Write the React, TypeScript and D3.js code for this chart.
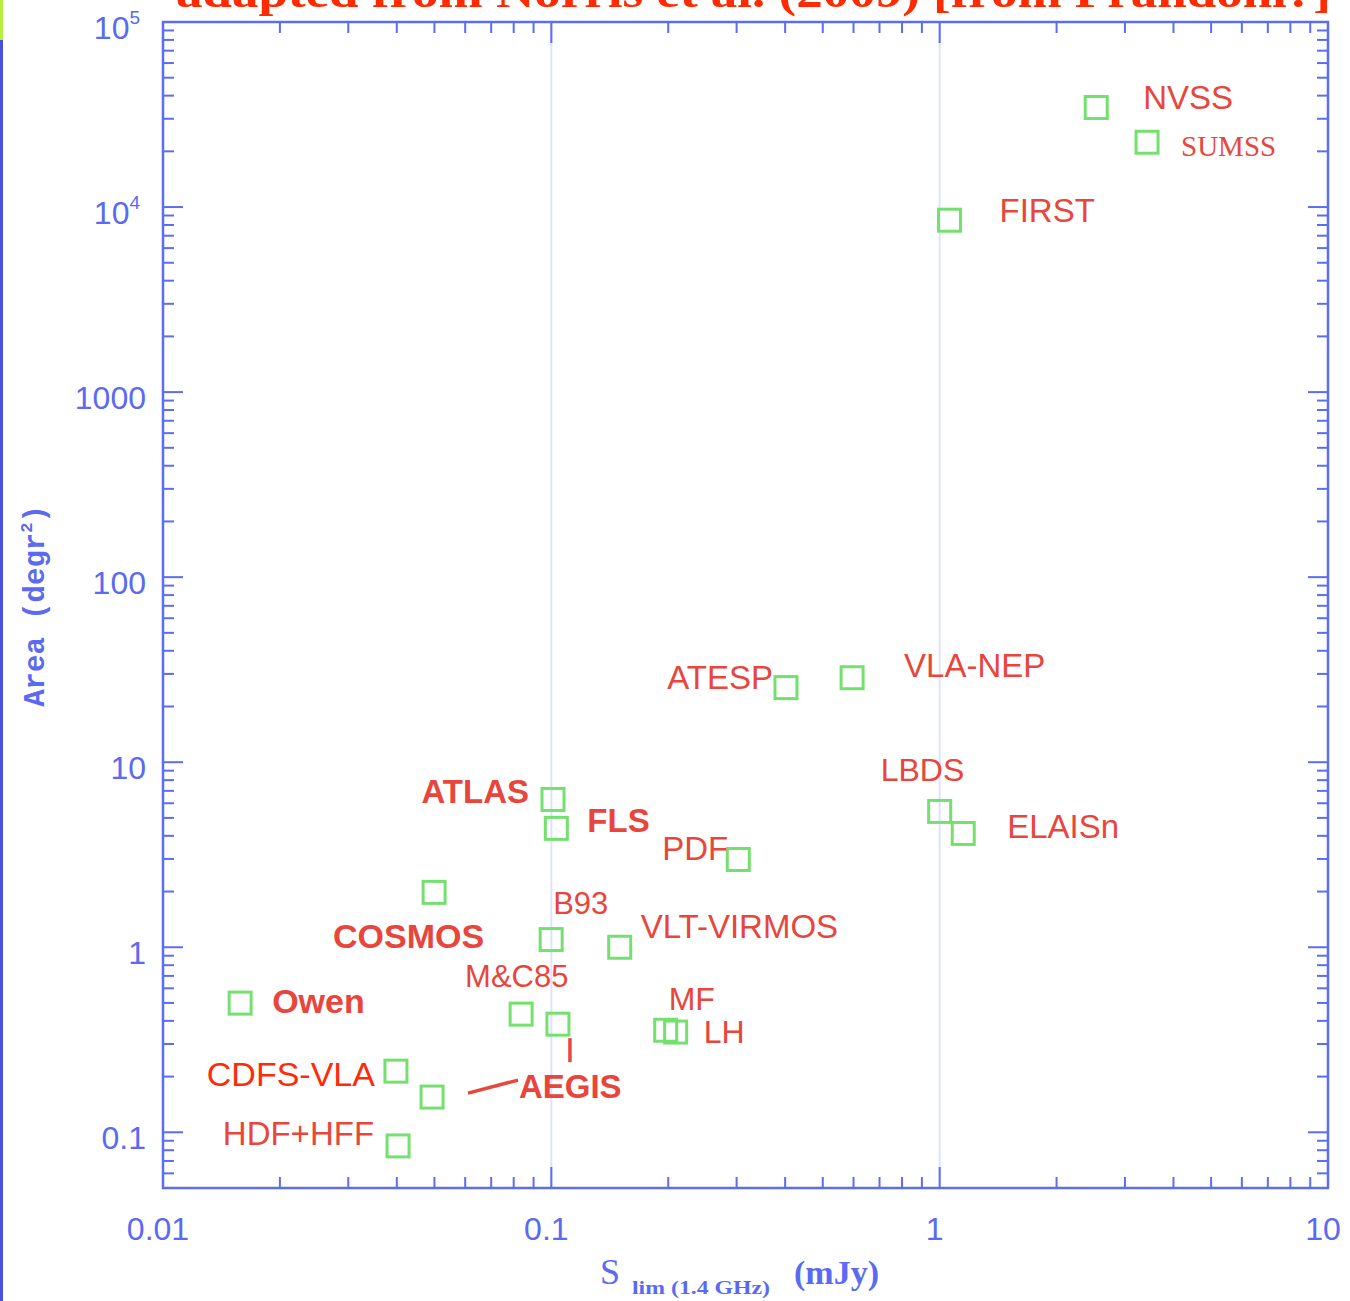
import * as d3 from 'd3';

// survey flux limits (mJy) and areas (deg^2)
const surveyNames = ['NVSS', 'SUMSS', 'FIRST', 'ATESP', 'VLA-NEP', 'LBDS', 'ELAISn', 'ATLAS', 'FLS', 'PDF', 'COSMOS', 'B93', 'VLT-VIRMOS', 'Owen', 'M&C85', 'AEGIS', 'MF', 'LH', 'CDFS-VLA', 'AEGIS-2', 'HDF+HFF'];
const fluxLimits = [2.53, 3.42, 1.06, 0.402, 0.595, 1.0, 1.15, 0.101, 0.103, 0.303, 0.0499, 0.0999, 0.15, 0.0158, 0.0836, 0.104, 0.197, 0.209, 0.0398, 0.0493, 0.0403];
const areas = [34500, 22400, 8490, 25.3, 28.6, 5.42, 4.12, 6.29, 4.39, 2.98, 1.98, 1.1, 1.0, 0.499, 0.435, 0.384, 0.356, 0.348, 0.214, 0.155, 0.0844];

const xTickValues = [0.01, 0.1, 1, 10];
const xTickLabels = ['0.01', '0.1', '1', '10'];
const yTickValues = [0.1, 1, 10, 100, 1000, 1e4, 1e5];
const yTickLabels = ['0.1', '1', '10', '100', '1000', '10|4', '10|5'];

// label placement relative to the square (pixels)
const labels = [
  { text: 'NVSS', i: 0, dx: 47, dy: 1, anchor: 'start', bold: false, serif: false, size: 33 },
  { text: 'SUMSS', i: 1, dx: 34, dy: 14, anchor: 'start', bold: false, serif: true, size: 29 },
  { text: 'FIRST', i: 2, dx: 50, dy: 2, anchor: 'start', bold: false, serif: false, size: 33 },
  { text: 'ATESP', i: 3, dx: -13, dy: 1, anchor: 'end', bold: false, serif: false, size: 33 },
  { text: 'VLA-NEP', i: 4, dx: 52, dy: -1, anchor: 'start', bold: false, serif: false, size: 33 },
  { text: 'LBDS', i: 5, dx: -59, dy: -30, anchor: 'start', bold: false, serif: false, size: 32 },
  { text: 'ELAISn', i: 6, dx: 44, dy: 5, anchor: 'start', bold: false, serif: false, size: 33 },
  { text: 'ATLAS', i: 7, dx: -24, dy: 4, anchor: 'end', bold: true, serif: false, size: 33 },
  { text: 'FLS', i: 8, dx: 31, dy: 4, anchor: 'start', bold: true, serif: false, size: 33 },
  { text: 'PDF', i: 9, dx: -10, dy: 1, anchor: 'end', bold: false, serif: false, size: 33 },
  { text: 'COSMOS', i: 10, dx: 50, dy: 56, anchor: 'end', bold: true, serif: false, size: 34 },
  { text: 'B93', i: 11, dx: 2, dy: -26, anchor: 'start', bold: false, serif: false, size: 31 },
  { text: 'VLT-VIRMOS', i: 12, dx: 21, dy: -9, anchor: 'start', bold: false, serif: false, size: 33 },
  { text: 'Owen', i: 13, dx: 32, dy: 10, anchor: 'start', bold: true, serif: false, size: 34 },
  { text: 'M&C85', i: 14, dx: -56, dy: -27, anchor: 'start', bold: false, serif: false, size: 31 },
  { text: 'AEGIS', i: 15, dx: -39, dy: 74, anchor: 'start', bold: true, serif: false, size: 33 },
  { text: 'MF', i: 16, dx: 3, dy: -20, anchor: 'start', bold: false, serif: false, size: 32 },
  { text: 'LH', i: 17, dx: 28, dy: 11, anchor: 'start', bold: false, serif: false, size: 32 },
  { text: 'CDFS-VLA', i: 18, dx: -21, dy: 15, anchor: 'end', bold: false, serif: false, size: 34 },
  { text: 'HDF+HFF', i: 20, dx: -24, dy: -1, anchor: 'end', bold: false, serif: false, size: 33 },
];

// AEGIS pointer strokes, relative to their squares
const pointers = [
  { i: 15, x1: 12, y1: 14, x2: 12, y2: 38 },
  { i: 19, x1: 36, y1: -4, x2: 86, y2: -17 },
];

const W = 1350;
const H = 1301;
const M = { left: 163, right: 1328, top: 22, bottom: 1188 };
const AXIS = '#5d6df3';
const RED = '#e8463c';
const GREEN = '#74e06e';

export default function App() {
  const x = d3.scaleLog().domain([0.01, 10]).range([M.left, M.right]);
  const y = d3.scaleLog().domain([0.05, 1e5]).range([M.bottom, M.top]);

  const xMinor = x.ticks().filter((t) => t >= 0.01 && t <= 10);
  const yMinor = y.ticks().filter((t) => t >= 0.05 && t <= 1e5);
  const isMajor = (t: number) => Math.abs(Math.log10(t) - Math.round(Math.log10(t))) < 1e-6;

  return (
    <svg width={W} height={H} style={{ position: 'absolute', left: 0, top: 0, background: '#fff' }}>
      {/* slide edge */}
      <rect x={0} y={0} width={3} height={H} fill="#4a4fdc" />
      <rect x={0} y={0} width={3} height={40} fill="#b8f040" />

      {/* title, cut off by the top of the picture */}
      <text x={(M.left + M.right) / 2 + 8} y={7} textAnchor="middle" fill="#ff2a00"
        fontFamily="Liberation Serif, Times New Roman, serif" fontWeight="bold" fontSize={44}
        textLength={1155} lengthAdjust="spacingAndGlyphs">
        adapted from Norris et al. (2009) [from Prandoni?]
      </text>

      {/* faint vertical grid at decades */}
      {[0.1, 1].map((t) => (
        <line key={'g' + t} x1={x(t)} x2={x(t)} y1={M.top} y2={M.bottom} stroke="#dfe2ff" strokeWidth={2} />
      ))}

      {/* frame */}
      <rect x={M.left} y={M.top} width={M.right - M.left} height={M.bottom - M.top} fill="none" stroke={AXIS} strokeWidth={2.5} />

      {/* x ticks, bottom and top */}
      {xMinor.map((t) => {
        const len = isMajor(t) ? 21 : 11;
        return (
          <g key={'xt' + t} stroke={AXIS} strokeWidth={2}>
            <line x1={x(t)} x2={x(t)} y1={M.bottom} y2={M.bottom - len} />
            <line x1={x(t)} x2={x(t)} y1={M.top} y2={M.top + len} />
          </g>
        );
      })}
      {/* y ticks, left and right */}
      {yMinor.map((t) => {
        const len = isMajor(t) ? 20 : 11;
        return (
          <g key={'yt' + t} stroke={AXIS} strokeWidth={2}>
            <line x1={M.left} x2={M.left + len} y1={y(t)} y2={y(t)} />
            <line x1={M.right} x2={M.right - len} y1={y(t)} y2={y(t)} />
          </g>
        );
      })}

      {/* tick labels */}
      <g fill="#5a6af2" fontFamily="Liberation Sans, Arial, sans-serif" fontSize={32}>
        {xTickValues.map((t, k) => (
          <text key={'xl' + t} x={x(t) - 5} y={M.bottom + 52} textAnchor="middle">{xTickLabels[k]}</text>
        ))}
        {yTickValues.map((t, k) => {
          const [base, exp] = yTickLabels[k].split('|');
          return (
            <text key={'yl' + t} x={exp ? 140 : 146} y={y(t) + 17} textAnchor="end">
              {base}
              {exp && <tspan fontSize={19} dy={-15}>{exp}</tspan>}
            </text>
          );
        })}
      </g>

      {/* axis titles */}
      <text transform="translate(44,606) rotate(-90)" textAnchor="middle" fill="#5a6af2"
        fontFamily="Liberation Mono, Courier New, monospace" fontWeight="bold" fontSize={29}>
        Area (degr<tspan fontSize={17} dy={-12}>2</tspan><tspan dy={12}>)</tspan>
      </text>
      <text x={600} y={1284} fill="#5a6af2" fontFamily="Liberation Serif, Times New Roman, serif" fontSize={36}>
        S
        <tspan x={632} y={1294} fontSize={19} fontWeight="bold" textLength={138} lengthAdjust="spacingAndGlyphs">lim (1.4 GHz)</tspan>
        <tspan x={794} y={1284} fontSize={34} fontWeight="bold">(mJy)</tspan>
      </text>

      {/* survey squares */}
      {surveyNames.map((name, k) => (
        <rect key={name} x={x(fluxLimits[k]) - 11} y={y(areas[k]) - 11} width={22} height={22}
          fill="none" stroke={GREEN} strokeWidth={3} />
      ))}

      {/* pointers */}
      {pointers.map((p, k) => {
        const cx = x(fluxLimits[p.i]);
        const cy = y(areas[p.i]);
        return (
          <line key={'p' + k} x1={cx + p.x1} y1={cy + p.y1} x2={cx + p.x2} y2={cy + p.y2}
            stroke={RED} strokeWidth={3.5} />
        );
      })}

      {/* labels */}
      {labels.map((l) => (
        <text key={l.text} x={x(fluxLimits[l.i]) + l.dx} y={y(areas[l.i]) + l.dy}
          textAnchor={l.anchor}
          fill={l.text === 'CDFS-VLA' ? '#ff2a0a' : RED}
          fontWeight={l.bold ? 'bold' : 'normal'}
          fontFamily={l.serif ? 'Liberation Serif, Times New Roman, serif' : 'Liberation Sans, Arial, sans-serif'}
          fontSize={l.size}>
          {l.text}
        </text>
      ))}
    </svg>
  );
}
